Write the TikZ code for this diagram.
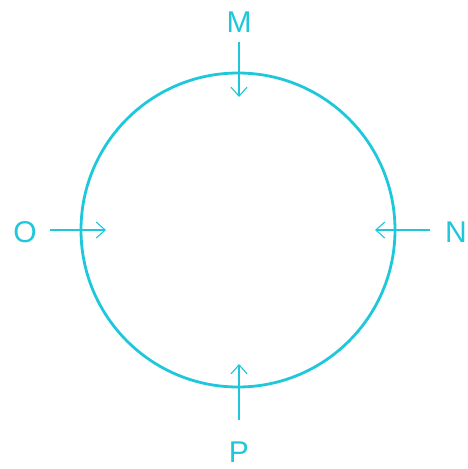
\documentclass[tikz,border=0pt]{standalone}
\usepackage{fontspec}
\setmainfont{Liberation Sans}
\usetikzlibrary{arrows.meta}
\definecolor{cy}{RGB}{30,200,218}
\begin{document}
\begin{tikzpicture}[x=1pt,y=-1pt,
  ring/.style={draw=cy,line width=2.8pt},
  force/.style={draw=cy,line width=2.4pt,-{Straight Barb[length=9pt,width=16pt,line width=1.1pt]}},
  lbl/.style={text=cy,font=\fontsize{30}{30}\selectfont,inner sep=0pt}]
\useasboundingbox (0,0) rectangle (468,469);
\fill[white] (0,0) rectangle (468,469);
\node[ring,circle,minimum size=314pt,inner sep=0pt] (c) at (238,230) {};
\node[lbl] (M) at (239,22) {M};
\node[lbl] (N) at (456,232) {N};
\node[lbl] (O) at (25,232) {O};
\node[lbl] (P) at (239,452) {P};
\coordinate (m1) at (239,42); \coordinate (m2) at (239,97);
\coordinate (n1) at (430,230); \coordinate (n2) at (375,230);
\coordinate (o1) at (50,230); \coordinate (o2) at (106,230);
\coordinate (p1) at (239,420); \coordinate (p2) at (239,364);
\draw[force] (m1) -- (m2);
\draw[force] (n1) -- (n2);
\draw[force] (o1) -- (o2);
\draw[force] (p1) -- (p2);
\end{tikzpicture}
\end{document}
